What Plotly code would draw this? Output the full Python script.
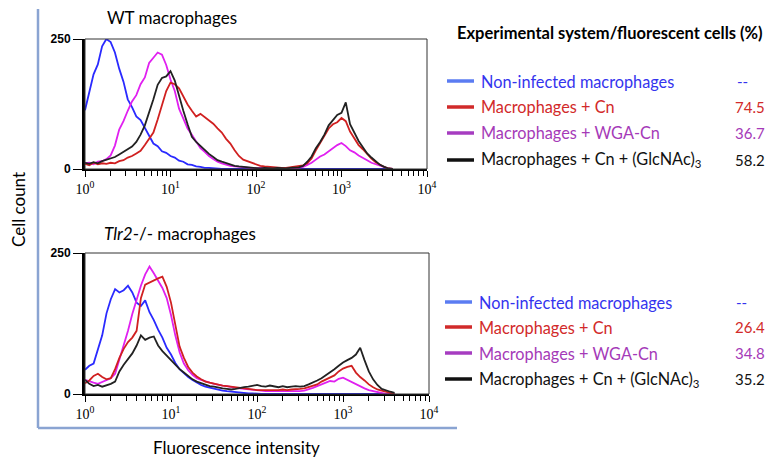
import plotly.graph_objects as go

W, H = 771, 458          # browser window / figure size

# Fluorescence channels (log10 units), bin centres of the histograms
log_channels = [
    0.00, 0.05, 0.10, 0.15, 0.20, 0.25, 0.30, 0.35, 0.40, 0.45,
    0.50, 0.55, 0.60, 0.65, 0.70, 0.75, 0.80, 0.85, 0.90, 0.95,
    1.00, 1.05, 1.10, 1.15, 1.20, 1.25, 1.30, 1.35, 1.40, 1.45,
    1.50, 1.55, 1.60, 1.65, 1.70, 1.75, 1.80, 1.85, 1.90, 1.95,
    2.00, 2.05, 2.10, 2.15, 2.20, 2.25, 2.30, 2.35, 2.40, 2.45,
    2.50, 2.55, 2.60, 2.65, 2.70, 2.75, 2.80, 2.85, 2.90, 2.95,
    3.00, 3.05, 3.10, 3.15, 3.20, 3.25, 3.30, 3.35, 3.40, 3.45,
    3.50, 3.55, 3.60,
]

# ---- WT macrophages (cell counts) ----
wt_noninfected = [
    113, 146, 182, 201, 236, 250, 244, 224, 193, 168,
    134, 119, 101, 94, 78, 64, 49, 44, 34, 31,
    25, 22, 16, 14, 9, 8, 5, 4, 2, 2,
    1, 0, 0, 0, 0, 0, 0, 0, 0, 0,
    0, 0, 0, 0, 0, 0, 0, 0, 0, 0,
    0, 0, 0, 0, 0, 0, 0, 0, 0, 0,
    0, 0, 0, 0, 0, 0, 0, 0, 0, 0,
    0, 0, 0,
]
wt_wga_cn = [
    11, 12, 9, 14, 15, 19, 26, 45, 76, 92,
    112, 130, 142, 163, 176, 204, 214, 224, 220, 200,
    172, 150, 116, 97, 78, 66, 52, 40, 33, 25,
    19, 14, 11, 8, 6, 5, 4, 3, 2, 2,
    1, 2, 1, 1, 1, 1, 0, 1, 1, 1,
    2, 4, 8, 12, 18, 24, 28, 34, 40, 46,
    50, 44, 36, 32, 26, 22, 17, 12, 9, 6,
    3, 1, 0,
]
wt_cn = [
    10, 7, 12, 9, 11, 10, 12, 11, 15, 17,
    22, 25, 30, 35, 46, 57, 70, 95, 124, 150,
    166, 163, 155, 138, 124, 112, 101, 106, 100, 93,
    87, 78, 70, 58, 49, 36, 25, 18, 15, 11,
    8, 6, 5, 4, 3, 2, 2, 2, 3, 4,
    5, 7, 11, 20, 36, 50, 64, 78, 86, 90,
    98, 92, 72, 60, 46, 38, 28, 20, 13, 8,
    4, 1, 0,
]
wt_cn_glcnac = [
    12, 10, 13, 11, 15, 18, 20, 23, 28, 33,
    38, 43, 52, 66, 84, 108, 134, 162, 175, 178,
    188, 170, 140, 112, 86, 62, 52, 44, 38, 29,
    23, 17, 14, 11, 8, 6, 5, 4, 3, 2,
    2, 1, 2, 1, 1, 2, 1, 1, 2, 2,
    3, 6, 14, 24, 40, 52, 66, 84, 94, 104,
    108, 128, 86, 70, 54, 42, 30, 22, 14, 8,
    4, 1, 0,
]

# ---- Tlr2-/- macrophages (cell counts) ----
tlr2_noninfected = [
    43, 50, 54, 78, 104, 143, 168, 186, 180, 184,
    192, 180, 162, 156, 166, 145, 131, 114, 100, 82,
    70, 55, 44, 37, 30, 25, 20, 16, 13, 11,
    9, 7, 6, 5, 4, 3, 2, 2, 1, 1,
    0, 0, 0, 0, 0, 0, 0, 0, 0, 0,
    0, 0, 0, 0, 0, 0, 0, 0, 0, 0,
    0, 0, 0, 0, 0, 0, 0, 0, 0, 0,
    0, 0, 0,
]
tlr2_wga_cn = [
    25, 22, 20, 18, 21, 24, 28, 36, 60, 88,
    112, 142, 168, 192, 212, 226, 214, 200, 188, 170,
    140, 104, 74, 54, 42, 34, 28, 25, 22, 20,
    18, 16, 15, 14, 12, 11, 10, 9, 8, 7,
    6, 6, 5, 5, 5, 4, 4, 4, 4, 4,
    5, 6, 8, 11, 14, 17, 20, 23, 22, 27,
    29, 25, 22, 17, 13, 10, 7, 5, 3, 1,
    0, 0, 0,
]
tlr2_cn = [
    19, 24, 32, 36, 30, 26, 28, 44, 64, 80,
    92, 100, 112, 170, 194, 198, 202, 205, 208, 190,
    162, 120, 84, 64, 48, 38, 31, 26, 22, 20,
    18, 16, 15, 14, 13, 11, 10, 9, 8, 8,
    7, 7, 7, 6, 7, 7, 8, 7, 8, 8,
    9, 10, 12, 14, 17, 22, 26, 30, 33, 40,
    45, 48, 50, 38, 30, 24, 17, 12, 8, 6,
    4, 2, 0,
]
tlr2_cn_glcnac = [
    25, 18, 14, 16, 13, 15, 18, 22, 40, 52,
    62, 72, 86, 104, 96, 100, 102, 86, 76, 68,
    60, 52, 44, 38, 32, 26, 22, 19, 16, 14,
    13, 11, 10, 9, 8, 9, 11, 12, 13, 15,
    16, 14, 13, 15, 13, 12, 14, 12, 13, 14,
    13, 14, 17, 20, 24, 28, 33, 38, 44, 50,
    56, 60, 64, 70, 82, 60, 40, 26, 16, 9,
    6, 4, 2,
]

legend_labels = [
    "Non-infected macrophages",
    "Macrophages + Cn",
    "Macrophages + WGA-Cn",
    "Macrophages + Cn + (GlcNAc)<sub>3</sub>",
]
wt_percent = ["--", "74.5", "36.7", "58.2"]
tlr2_percent = ["--", "26.4", "34.8", "35.2"]
decade_ticks = [1, 10, 100, 1000, 10000]
decade_text = ["10<sup>0</sup>", "10<sup>1</sup>", "10<sup>2</sup>", "10<sup>3</sup>", "10<sup>4</sup>"]
count_ticks = [0, 250]

curve_colors = ["#2a2aff", "#d02020", "#e020f0", "#222222"]   # blue, red, magenta, black
key_colors = ["#5b7cf2", "#d12a2a", "#a63cc0", "#111111"]
text_colors = ["#3434ee", "#d22a2a", "#a53ab8", "#111111"]

fluor = [10 ** c for c in log_channels]
minor_vals = [m * 10 ** d for d in range(4) for m in range(2, 10)]

fig = go.Figure()

panels = [
    ("x", "y", [wt_noninfected, wt_cn, wt_wga_cn, wt_cn_glcnac]),
    ("x2", "y2", [tlr2_noninfected, tlr2_cn, tlr2_wga_cn, tlr2_cn_glcnac]),
]
draw_order = [0, 2, 1, 3]
for xa, ya, series in panels:
    for k in draw_order:
        fig.add_trace(go.Scatter(
            x=fluor, y=series[k], mode="lines", xaxis=xa, yaxis=ya,
            line=dict(color=curve_colors[k], width=1.8),
            showlegend=False, hoverinfo="skip",
        ))

def px(x):
    return x / W

def py(y):
    return 1 - y / H

def xaxis_cfg(x0, x1, anchor):
    return dict(
        type="log", domain=[px(x0), px(x1)], range=[0, 4], anchor=anchor,
        automargin=False,
        showline=True, linecolor="black", linewidth=1.5,
        ticks="outside", ticklen=6, tickwidth=1.2, tickcolor="black",
        tickmode="array", tickvals=decade_ticks, ticktext=decade_text,
        tickfont=dict(family="Liberation Serif", size=14, color="black"),
        minor=dict(ticks="outside", ticklen=5, tickwidth=1.2, tickcolor="black",
                   tickmode="array", tickvals=minor_vals),
        showgrid=False, zeroline=False, fixedrange=True,
    )

def yaxis_cfg(y_bottom, y_top, anchor):
    return dict(
        domain=[py(y_bottom), py(y_top)], range=[0, 250], anchor=anchor,
        automargin=False,
        showline=True, linecolor="black", linewidth=3,
        ticks="outside", ticklen=9, tickwidth=1.2, tickcolor="black",
        tickmode="array", tickvals=count_ticks,
        ticktext=["<b>%d</b>" % v for v in count_ticks],
        tickfont=dict(family="Liberation Sans Narrow, Liberation Sans", size=12, color="black"),
        showgrid=False, zeroline=False, fixedrange=True,
    )

fig.update_layout(
    width=W, height=H,
    margin=dict(l=0, r=0, t=0, b=0, pad=0, autoexpand=False),
    paper_bgcolor="white", plot_bgcolor="white",
    xaxis=xaxis_cfg(85, 427, "y"),
    yaxis=yaxis_cfg(169, 39, "x"),
    xaxis2=xaxis_cfg(85, 429, "y2"),
    yaxis2=yaxis_cfg(394, 253, "x2"),
)

shapes = []
# thin frame around each histogram
for xa, ya in [("x", "y"), ("x2", "y2")]:
    shapes.append(dict(type="rect", xref=xa + " domain", yref=ya + " domain",
                       x0=0, x1=1, y0=0, y1=1, line=dict(color="#333333", width=1)))
# outer light-blue bracket
shapes.append(dict(type="line", xref="paper", yref="paper",
                   x0=px(38), x1=px(38), y0=py(9), y1=py(428),
                   line=dict(color="#8aa4d2", width=2.5)))
shapes.append(dict(type="line", xref="paper", yref="paper",
                   x0=px(38), x1=px(457), y0=py(428), y1=py(428),
                   line=dict(color="#8aa4d2", width=2.5)))

annotations = []
font_main = "Lato"

def add_text(text, x, y, size, color="black", xanchor="center", bold=False, angle=0):
    annotations.append(dict(
        text=("<b>%s</b>" % text) if bold else text,
        x=px(x), y=py(y), xref="paper", yref="paper", showarrow=False,
        xanchor=xanchor, yanchor="middle", textangle=angle,
        font=dict(family=font_main, size=size, color=color),
    ))

add_text("WT macrophages", 172, 18, 17)
add_text("<i>Tlr2</i>-/- macrophages", 180, 233, 17)
add_text("Cell count", 18, 210, 17, angle=-90)
add_text("Fluorescence intensity", 236, 447, 17)
add_text("Experimental system/fluorescent cells (%)", 455, 33, 16.5, bold=True, xanchor="left")

legend_blocks = [
    ([81, 107, 133, 160], 447, 474, 479, 735, 767, wt_percent),
    ([302, 327, 353, 379], 445, 472, 477, 734, 767, tlr2_percent),
]
for rows, lx0, lx1, tx, dash_x, val_right, values in legend_blocks:
    for k, yy in enumerate(rows):
        shapes.append(dict(type="line", xref="paper", yref="paper",
                           x0=px(lx0), x1=px(lx1), y0=py(yy), y1=py(yy),
                           line=dict(color=key_colors[k], width=3.5)))
        add_text(legend_labels[k], tx, yy, 16.3, color=text_colors[k], xanchor="left")
        if values[k] == "--":
            add_text(values[k], dash_x, yy, 15, color=text_colors[k], xanchor="left")
        else:
            add_text(values[k], val_right, yy, 15, color=text_colors[k], xanchor="right")

fig.update_layout(shapes=shapes, annotations=annotations)

# place the figure at the window's top-left corner (no default page margin)
fig.write_html(
    "out.html",
    config={"displayModeBar": False},
    post_script="document.body.style.margin='0';document.body.style.overflow='hidden';",
)
